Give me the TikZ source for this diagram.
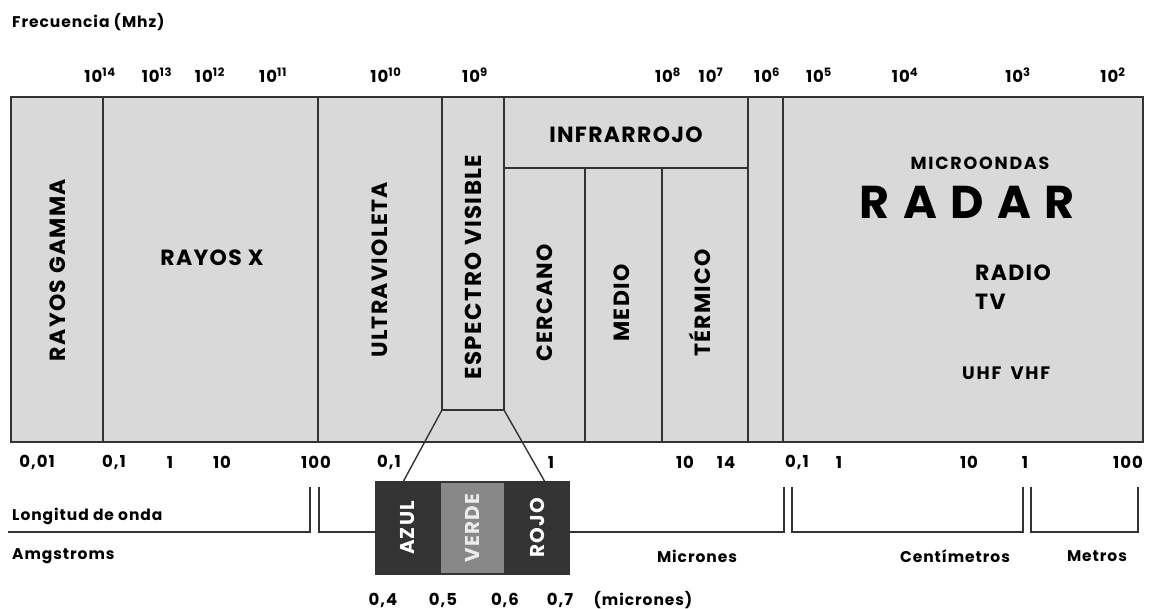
\documentclass[tikz,border=0pt]{standalone}
\usepackage{fontspec}
\setmainfont{Poppins}[LetterSpace=6]
\newfontfamily\radarfont{Poppins}[LetterSpace=29]
\newfontfamily\widefont{Poppins}[LetterSpace=10]
\definecolor{boxgray}{HTML}{D9D9D9}
\definecolor{linegray}{HTML}{333333}
\definecolor{darkband}{HTML}{333333}
\definecolor{midband}{HTML}{888888}
\tikzset{
  frame/.style={draw=linegray, line width=1.6pt},
  thin/.style={draw=linegray, line width=1.4pt},
  lbl/.style={inner sep=0pt, font=\bfseries\fontsize{16.5}{18}\selectfont},
  small/.style={inner sep=0pt, font=\bfseries\fontsize{15.5}{17}\selectfont},
  big/.style={inner sep=0pt, font=\bfseries\fontsize{22}{24}\selectfont},
  vert/.style={big, rotate=90},
  band/.style={inner sep=0pt, text=white, rotate=90, font=\bfseries\fontsize{20}{22}\selectfont},
}
\begin{document}
\begin{tikzpicture}[x=1pt,y=-1pt]
\useasboundingbox (0,0) rectangle (1152,609);
% main frame
\fill[boxgray] (11,97) rectangle (1143,442);
\draw[frame] (11,97) rectangle (1143,442);
\coordinate (v1t) at (103,97);  \coordinate (v1b) at (103,442);
\coordinate (v2t) at (318,97);  \coordinate (v2b) at (318,442);
\coordinate (evl) at (442,97);  \coordinate (evlb) at (442,410);
\coordinate (evr) at (504,97);  \coordinate (evrb) at (504,410);
\coordinate (irl) at (504,168); \coordinate (irr) at (748,168);
\coordinate (c1t) at (585,168); \coordinate (c1b) at (585,442);
\coordinate (c2t) at (662,168); \coordinate (c2b) at (662,442);
\coordinate (v3t) at (748,97);  \coordinate (v3b) at (748,442);
\coordinate (v4t) at (783,97);  \coordinate (v4b) at (783,442);
\draw[frame] (v1t) -- (v1b);
\draw[frame] (v2t) -- (v2b);
\draw[frame] (evl) -- (evlb) -- (evrb) -- (evr);
\draw[frame] (irl) -- (irr);
\draw[frame] (c1t) -- (c1b);
\draw[frame] (c2t) -- (c2b);
\draw[frame] (v3t) -- (v3b);
\draw[frame] (v4t) -- (v4b);
% colour bands
\fill[darkband] (376,482) rectangle (440,574);
\fill[midband] (440,482) rectangle (505,574);
\fill[darkband] (505,482) rectangle (569,574);
\draw[frame] (376,482) rectangle (569,574);
\draw[frame] (440,482) -- (440,574);
\draw[frame] (505,482) -- (505,574);
\coordinate (tl) at (403,482); \coordinate (tr) at (545,482);
\draw[thin] (evlb) -- (tl);
\draw[thin] (evrb) -- (tr);
% brackets
\coordinate (bk1a) at (8,532);
\draw[thin] (bk1a) -- (310,532) -- (310,487);
\draw[thin] (319,487) -- (319,532) -- (376,532);
\draw[thin] (569,532) -- (784,532) -- (784,487);
\draw[thin] (792,487) -- (792,532) -- (1023,532) -- (1023,487);
\draw[thin] (1031,487) -- (1031,532) -- (1138,532) -- (1138,487);
% title
\node[small, anchor=west] (frec) at (12,22) {Frecuencia (Mhz)};
% frequencies
\node[lbl] (f14) at (100,75) {10\textsuperscript{14}};
\node[lbl] (f13) at (157,75) {10\textsuperscript{13}};
\node[lbl] (f12) at (210,75) {10\textsuperscript{12}};
\node[lbl] (f11) at (273,75) {10\textsuperscript{11}};
\node[lbl] (f10) at (386,75) {10\textsuperscript{10}};
\node[lbl] (f9) at (475,75) {10\textsuperscript{9}};
\node[lbl] (f8) at (668,75) {10\textsuperscript{8}};
\node[lbl] (f7) at (711,75) {10\textsuperscript{7}};
\node[lbl] (f6) at (767,75) {10\textsuperscript{6}};
\node[lbl] (f5) at (819,75) {10\textsuperscript{5}};
\node[lbl] (f4) at (905,75) {10\textsuperscript{4}};
\node[lbl] (f3) at (1018,75) {10\textsuperscript{3}};
\node[lbl] (f2) at (1113,75) {10\textsuperscript{2}};
% wavelengths
\node[lbl] (w1) at (37,462) {0,01};
\node[lbl] (w2) at (114,462) {0,1};
\node[lbl] (w3) at (170,462) {1};
\node[lbl] (w4) at (222,462) {10};
\node[lbl] (w5) at (316,462) {100};
\node[lbl] (w6) at (389,462) {0,1};
\node[lbl] (w7) at (551,462) {1};
\node[lbl] (w8) at (685,462) {10};
\node[lbl] (w9) at (726,462) {14};
\node[lbl] (w10) at (797,462) {0,1};
\node[lbl] (w11) at (839,462) {1};
\node[lbl] (w12) at (969,462) {10};
\node[lbl] (w13) at (1025,462) {1};
\node[lbl] (w14) at (1128,462) {100};
% region labels
\node[vert] (gamma) at (58,270) {RAYOS GAMMA};
\node[big] (rx) at (212,258) {RAYOS X};
\node[vert] (uv) at (380,270) {ULTRAVIOLETA};
\node[vert, font=\bfseries\fontsize{23}{25}\selectfont] (ev) at (473,267) {ESPECTRO VISIBLE};
\node[big] (ir) at (626,135) {INFRARROJO};
\node[vert] (cer) at (545,303) {CERCANO};
\node[vert] (med) at (622,303) {MEDIO};
\node[vert] (ter) at (700,303) {TÉRMICO};
\node[inner sep=0pt, font=\widefont\bfseries\fontsize{17.5}{19}\selectfont] (micro) at (980,163) {MICROONDAS};
\node[inner sep=0pt, font=\radarfont\bfseries\fontsize{46}{48}\selectfont] (radar) at (967,202) {RADAR};
\node[big, anchor=west] (radio) at (975,273) {RADIO};
\node[big, anchor=west] (tv) at (975,302) {TV};
\node[inner sep=0pt, anchor=west, font=\widefont\bfseries\fontsize{18}{20}\selectfont] (uhf) at (962,373) {UHF\hspace{9pt}VHF};
% bands
\node[band] (azul) at (408,528) {AZUL};
\node[band, text=white!85!gray] (verde) at (472,528) {VERDE};
\node[band] (rojo) at (537,528) {ROJO};
% bottom labels
\node[small, anchor=west] (long) at (12,516) {Longitud de onda};
\node[small, anchor=west] (amg) at (12,556) {Amgstroms};
\node[small] (mic) at (697,556) {Micrones};
\node[small] (cent) at (955,556) {Centímetros};
\node[small] (met) at (1097,556) {Metros};
\node[lbl] (b4) at (383,600) {0,4};
\node[lbl] (b5) at (443,600) {0,5};
\node[lbl] (b6) at (505,600) {0,6};
\node[lbl] (b7) at (560,600) {0,7};
\node[small] (bmic) at (643,600) {(micrones)};
\end{tikzpicture}
\end{document}
